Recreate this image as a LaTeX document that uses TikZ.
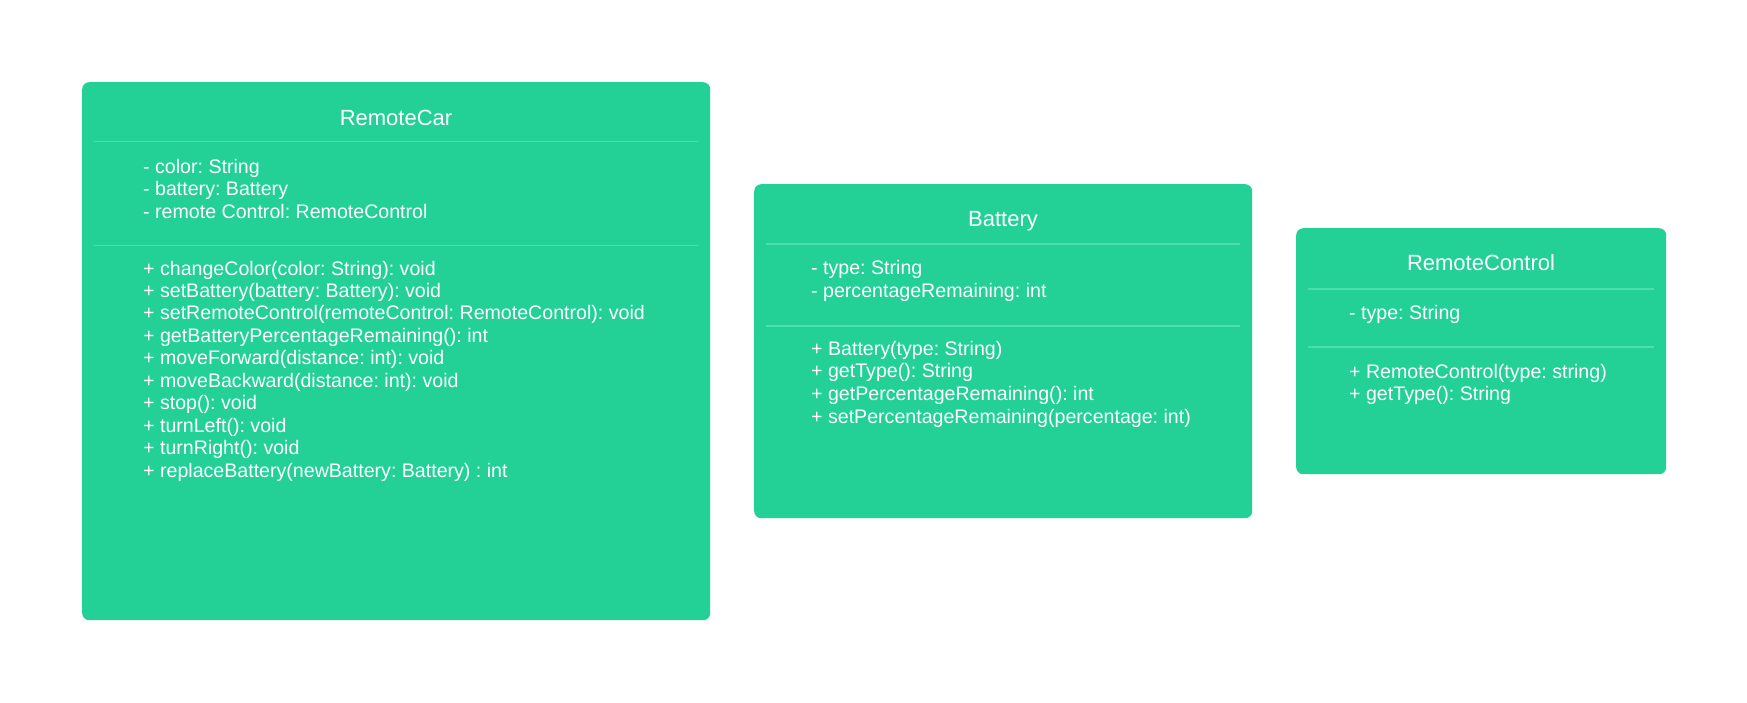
\documentclass[tikz,border=0pt]{standalone}
\usepackage{fontspec}
\setmainfont{Liberation Sans}
\frenchspacing
\definecolor{umlgreen}{HTML}{23D096}
\definecolor{sepgreen}{HTML}{4FDDAA}
\begin{document}
\begin{tikzpicture}[x=1pt,y=-1pt,
  box/.style={fill=umlgreen, draw=none, rounded corners=7pt, inner sep=0pt, anchor=north west},
  sepline/.style={draw=sepgreen, line width=1.5pt},
  titletext/.style={text=white, font=\fontsize{22}{26}\selectfont\frenchspacing, inner sep=0pt, anchor=base},
  txt/.style={text=white, font=\fontsize{19.6}{22.5}\selectfont\frenchspacing, inner sep=0pt, anchor=base west}]
\useasboundingbox (0,0) rectangle (1747,702);

% RemoteCar
\node[box, minimum width=628pt, minimum height=538pt] (car) at (82,82) {};
\node[titletext] (cartitle) at (396,125) {RemoteCar};
\draw[sepline] (94,141.7) -- (698,141.7);
\draw[sepline] (94,245.7) -- (698,245.7);
\foreach \t [count=\i from 0] in {{- color: String},{- battery: Battery},{- remote Control: RemoteControl}}
  \node[txt] (cara\i) at (143,{173+22.5*\i}) {\t};
\foreach \t [count=\i from 0] in {{+ changeColor(color: String): void},
  {+ setBattery(battery: Battery): void},
  {+ setRemoteControl(remoteControl: RemoteControl): void},
  {+ getBatteryPercentageRemaining(): int},
  {+ moveForward(distance: int): void},
  {+ moveBackward(distance: int): void},
  {+ stop(): void},
  {+ turnLeft(): void},
  {+ turnRight(): void},
  {+ replaceBattery(newBattery: Battery) : int}}
  \node[txt] (carm\i) at (143,{275+22.45*\i}) {\t};

% Battery
\node[box, minimum width=498pt, minimum height=334pt] (bat) at (754,184) {};
\node[titletext] (battitle) at (1003,226) {Battery};
\draw[sepline] (766,244) -- (1240,244);
\draw[sepline] (766,326) -- (1240,326);
\foreach \t [count=\i from 0] in {{- type: String},{- percentageRemaining: int}}
  \node[txt] (bata\i) at (811,{274+23*\i}) {\t};
\foreach \t [count=\i from 0] in {{+ Battery(type: String)},
  {+ getType(): String},
  {+ getPercentageRemaining(): int},
  {+ setPercentageRemaining(percentage: int)}}
  \node[txt] (batm\i) at (811,{355+22.7*\i}) {\t};

% RemoteControl
\node[box, minimum width=370pt, minimum height=246pt] (rc) at (1296,228) {};
\node[titletext] (rctitle) at (1481,270) {RemoteControl};
\draw[sepline] (1308,289) -- (1654,289);
\draw[sepline] (1308,347) -- (1654,347);
\node[txt] (rca0) at (1349,319) {- type: String};
\foreach \t [count=\i from 0] in {{+ RemoteControl(type: string)},{+ getType(): String}}
  \node[txt] (rcm\i) at (1349,{378+22.5*\i}) {\t};
\end{tikzpicture}
\end{document}
